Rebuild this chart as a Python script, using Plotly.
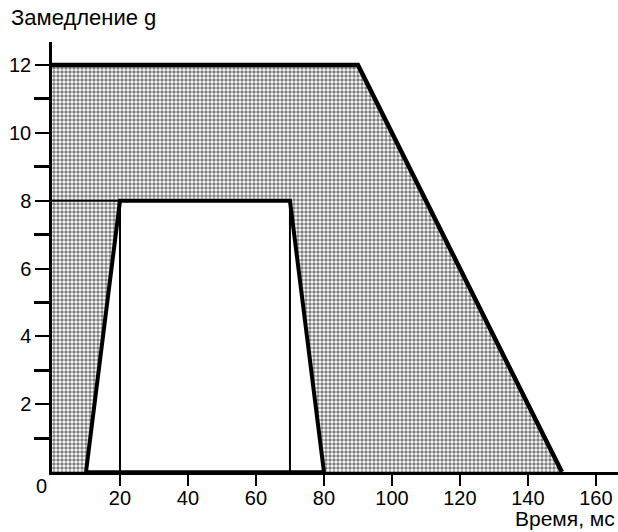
import plotly.graph_objects as go

# Data
outer_t = [0, 0, 90, 150]        # ms, boundary of the permitted (shaded) zone
outer_g = [0, 12, 12, 0]          # g
inner_t = [10, 20, 70, 80]        # ms, inner trapezoid
inner_g = [0, 8, 8, 0]            # g
plateau_t = [20, 70]              # vertical guide lines at the plateau ends
level8_t = [0, 20]
level8_g = [8, 8]
x_ticks = [20, 40, 60, 80, 100, 120, 140, 160]
y_ticks = [2, 4, 6, 8, 10, 12]
y_minor = [1, 3, 5, 7, 9, 11]
origin_label = "0"
y_title = "Замедление g"
x_title = "Время, мс"

FONT = "Liberation Sans, Arial, sans-serif"

fig = go.Figure()

# shaded zone
fig.add_trace(go.Scatter(
    x=outer_t + [outer_t[0]], y=outer_g + [outer_g[0]],
    mode="lines", fill="toself", line=dict(width=0),
    fillcolor="rgba(0,0,0,0)",
    fillpattern=dict(shape=".", fgcolor="black", bgcolor="white", size=4, solidity=0.6),
    hoverinfo="skip", showlegend=False))

# white inner trapezoid
fig.add_trace(go.Scatter(
    x=inner_t + [inner_t[0]], y=inner_g + [inner_g[0]],
    mode="lines", fill="toself", fillcolor="white", line=dict(width=0),
    hoverinfo="skip", showlegend=False))

# thin guide lines
for t in plateau_t:
    fig.add_trace(go.Scatter(x=[t, t], y=[0, inner_g[1]], mode="lines",
                             line=dict(color="black", width=2),
                             hoverinfo="skip", showlegend=False))
fig.add_trace(go.Scatter(x=level8_t, y=level8_g, mode="lines",
                         line=dict(color="black", width=2),
                         hoverinfo="skip", showlegend=False))

# bottom line under the trapezoid
fig.add_trace(go.Scatter(x=[inner_t[0], inner_t[-1]], y=[0, 0], mode="lines",
                         line=dict(color="black", width=3.5),
                         hoverinfo="skip", showlegend=False))

# thick outer boundary
fig.add_trace(go.Scatter(x=outer_t[1:], y=outer_g[1:], mode="lines",
                         line=dict(color="black", width=4.5),
                         hoverinfo="skip", showlegend=False))
# thick trapezoid
fig.add_trace(go.Scatter(x=inner_t, y=inner_g, mode="lines",
                         line=dict(color="black", width=4),
                         hoverinfo="skip", showlegend=False))

fig.update_layout(
    width=618, height=532,
    margin=dict(l=52, r=0, t=42, b=60),
    plot_bgcolor="white", paper_bgcolor="white",
    font=dict(family=FONT, size=20, color="black"),
    showlegend=False,
    annotations=[
        dict(text=y_title, xref="paper", yref="paper", x=-0.076, y=1.056,
             xanchor="left", yanchor="middle", showarrow=False,
             font=dict(family=FONT, size=22, color="black")),
        dict(text=x_title, xref="paper", yref="paper", x=0.998, y=-0.107,
             xanchor="right", yanchor="middle", showarrow=False,
             font=dict(family=FONT, size=21, color="black")),
        dict(text=origin_label, x=0, y=0, xref="x", yref="y",
             xanchor="right", yanchor="top", xshift=-3, yshift=-1,
             showarrow=False, font=dict(family=FONT, size=20, color="black")),
    ],
)

fig.update_xaxes(
    range=[0, 166.5], showgrid=False, zeroline=False,
    showline=True, linecolor="black", linewidth=3,
    tickmode="array", tickvals=x_ticks, ticktext=[str(v) for v in x_ticks],
    ticks="outside", ticklen=11, tickwidth=2, tickcolor="black",
    ticklabelstandoff=-5,
)
fig.update_yaxes(
    range=[0, 12.68], showgrid=False, zeroline=False,
    showline=True, linecolor="black", linewidth=2.5,
    tickmode="array", tickvals=y_ticks, ticktext=[str(v) for v in y_ticks],
    ticks="outside", ticklen=14, tickwidth=1.5, tickcolor="black",
    minor=dict(tickmode="array", tickvals=y_minor,
               ticks="outside", ticklen=15, tickwidth=3, tickcolor="black"),
)

fig.write_html("out.html", config={"displayModeBar": False},
               post_script="document.body.style.margin='0';document.body.style.overflow='hidden';")
